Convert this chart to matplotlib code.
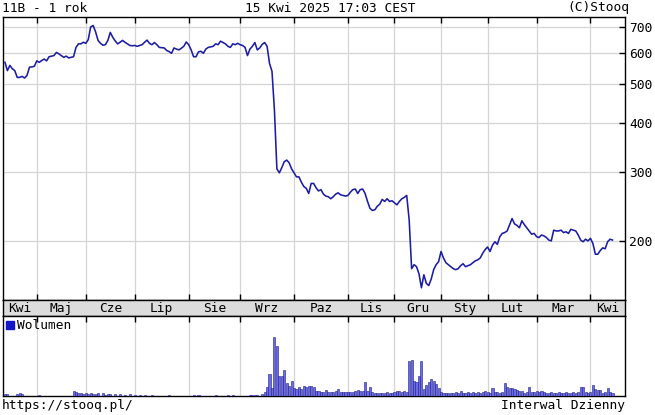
"""Stooq-style one-year chart for 11B: daily close (log scale) + volume panel."""

import matplotlib
matplotlib.use("Agg")
import matplotlib.pyplot as plt
import numpy as np
from matplotlib.patches import Patch
from matplotlib.ticker import FixedFormatter, FixedLocator, NullLocator

plt.rcParams["font.family"] = ["DejaVu Sans Mono"]

LINE = "#1c1ca6"
GRID = "#d4d4d4"
STRIP = "#dcdcdc"
BAR_FACE = "#6b6be6"
BAR_EDGE = "#1e1e8c"
FS = 9.3

# daily close, 15 Kwi 2024 .. 15 Kwi 2025 (one value per session)
close = [
    569, 542, 559, 548, 542, 521, 521, 524, 519, 527,
    553, 554, 556, 574, 569, 575, 580, 574, 588, 590,
    592, 603, 598, 592, 586, 590, 584, 586, 588, 621,
    634, 634, 640, 636, 650, 700, 706, 680, 647, 636,
    629, 631, 647, 678, 659, 645, 634, 640, 647, 640,
    634, 628, 627, 628, 625, 628, 631, 640, 648, 636,
    631, 639, 631, 621, 620, 619, 610, 606, 600, 619,
    615, 612, 618, 625, 641, 631, 612, 588, 588, 605,
    607, 600, 615, 621, 623, 625, 634, 631, 644, 639,
    634, 625, 621, 634, 631, 636, 631, 628, 621, 592,
    615, 625, 639, 612, 619, 632, 639, 625, 565, 540,
    430, 305, 298, 307, 318, 321, 316, 305, 298, 291,
    291, 282, 275, 272, 264, 280, 280, 273, 268, 270,
    263, 260, 259, 256, 259, 263, 265, 262, 261, 260,
    261, 266, 270, 271, 264, 270, 271, 264, 252, 242,
    239, 240, 245, 248, 255, 252, 256, 252, 253, 250,
    247, 252, 256, 258, 261, 226, 170, 174, 172, 165,
    152, 164, 156, 154, 160, 169, 174, 177, 188, 181,
    176, 174, 172, 170, 169, 170, 173, 175, 172, 173,
    174, 176, 178, 179, 181, 186, 190, 193, 188, 195,
    199, 196, 205, 209, 210, 212, 220, 228, 221, 219,
    216, 225, 220, 216, 212, 208, 209, 205, 204, 207,
    206, 204, 201, 200, 213, 212, 212, 213, 210, 211,
    209, 214, 213, 212, 207, 201, 199, 202, 200, 203,
    197, 185, 185, 189, 192, 191, 199, 202, 201,
]

# daily volume (relative units), same sessions
volume = [
    2, 2, 0, 0, 0, 2, 3, 2, 0, 0,
    0, 0, 0, 0, 1, 0, 0, 0, 0, 0,
    0, 0, 0, 0, 0, 0, 0, 0, 5, 4,
    3, 3, 2, 3, 2, 3, 2, 2, 3, 0,
    3, 1, 2, 2, 0, 2, 0, 2, 0, 1,
    0, 2, 0, 1, 0, 1, 0, 1, 0, 0,
    1, 0, 0, 0, 0, 0, 0, 1, 0, 0,
    0, 0, 0, 0, 0, 0, 0, 1, 0, 1,
    0, 0, 0, 0, 0, 0, 1, 0, 0, 0,
    0, 1, 0, 1, 0, 0, 0, 0, 0, 0,
    1, 1, 1, 1, 0, 2, 4, 9, 22, 8,
    59, 50, 20, 20, 26, 13, 10, 15, 8, 7,
    9, 7, 10, 9, 10, 10, 9, 5, 5, 4,
    4, 6, 4, 4, 4, 5, 7, 4, 4, 4,
    4, 4, 4, 5, 6, 5, 5, 14, 5, 9,
    4, 3, 3, 3, 3, 3, 4, 3, 3, 4,
    5, 5, 4, 5, 4, 35, 36, 15, 14, 20,
    35, 7, 11, 14, 17, 15, 12, 8, 4, 3,
    3, 3, 3, 3, 4, 3, 5, 3, 3, 4,
    3, 4, 3, 4, 3, 4, 5, 4, 3, 8,
    4, 4, 3, 4, 13, 9, 8, 8, 7, 6,
    5, 5, 3, 4, 9, 4, 4, 5, 4, 5,
    4, 3, 3, 4, 3, 3, 4, 3, 3, 4,
    3, 3, 4, 3, 4, 9, 9, 4, 3, 4,
    11, 7, 6, 6, 3, 4, 8, 4, 3,
]

# session index of the first trading day of each month (Maj .. Kwi)
month_start = [13, 33, 53, 75, 96, 118, 140, 159, 178, 197, 217, 239]
month_names = ["Kwi", "Maj", "Cze", "Lip", "Sie", "Wrz", "Paz",
               "Lis", "Gru", "Sty", "Lut", "Mar", "Kwi"]
price_levels = [200, 300, 400, 500, 600, 700]

W, H = 655, 415
X_LIM = (-0.8, 253.1)


def box(x0, y0, x1, y1):
    """pixel box (top-left origin) -> figure fraction rect"""
    return [x0 / W, 1 - y1 / H, (x1 - x0) / W, (y1 - y0) / H]


def frame(ax):
    for s in ax.spines.values():
        s.set_color("black")
        s.set_linewidth(1.0)


fig = plt.figure(figsize=(W / 100, H / 100), dpi=100)
fig.patch.set_facecolor("white")

ax = fig.add_axes(box(3, 17, 625, 300))
ax_m = fig.add_axes(box(3, 300, 625, 316))
ax_v = fig.add_axes(box(3, 316, 625, 396))

days = np.arange(len(close))

# --- price panel
ax.plot(days, close, color=LINE, lw=1.15, zorder=3)
ax.set_yscale("log")
ax.set_ylim(141.5, 742)
ax.set_xlim(*X_LIM)
ax.yaxis.set_major_locator(FixedLocator(price_levels))
ax.yaxis.set_major_formatter(FixedFormatter([str(v) for v in price_levels]))
ax.yaxis.set_minor_locator(NullLocator())
ax.yaxis.tick_right()
ax.set_xticks(month_start)
ax.tick_params(axis="x", direction="in", length=4, top=True, bottom=True,
               labelbottom=False, width=1, colors="black")
ax.tick_params(axis="y", direction="in", length=4, labelsize=FS, pad=3,
               width=1, colors="black")
ax.grid(True, color=GRID, lw=0.9, zorder=0)
frame(ax)

# --- month strip
ax_m.set_facecolor(STRIP)
ax_m.set_xlim(*X_LIM)
ax_m.set_ylim(0, 1)
ax_m.set_xticks([])
ax_m.set_yticks([])
bounds = [X_LIM[0]] + month_start + [X_LIM[1]]
for name, a, b in zip(month_names, bounds[:-1], bounds[1:]):
    ax_m.text((a + b) / 2, 0.45, name, ha="center", va="center", fontsize=FS)
frame(ax_m)

# --- volume panel
ax_v.bar(days, volume, width=0.85, color=BAR_FACE, edgecolor=BAR_EDGE,
         lw=0.4, zorder=3)
ax_v.set_xlim(*X_LIM)
ax_v.set_ylim(0, max(volume) * 1.35)
ax_v.set_yticks([])
ax_v.set_xticks(month_start)
ax_v.tick_params(axis="x", direction="in", length=4, top=True, bottom=False,
                 labelbottom=False, width=1)
ax_v.grid(True, axis="x", color=GRID, lw=0.9, zorder=0)
ax_v.legend(handles=[Patch(facecolor="#1414c8", edgecolor="#1414c8")],
            labels=["Wolumen"], loc="upper left", frameon=False,
            fontsize=FS, handlelength=0.6, handleheight=0.6,
            handletextpad=0.2, borderaxespad=0.15, borderpad=0.1)
frame(ax_v)

# --- header / footer
ty = 1 - 8 / H
fig.text(2 / W, ty, "11B - 1 rok", ha="left", va="center", fontsize=FS)
fig.text(330 / W, ty, "15 Kwi 2025 17:03 CEST", ha="center", va="center",
         fontsize=FS)
fig.text(629 / W, ty, "(C)Stooq", ha="right", va="center", fontsize=FS)
by = 1 - 405 / H
fig.text(2 / W, by, "https://stooq.pl/", ha="left", va="center", fontsize=FS)
fig.text(625 / W, by, "Interwal Dzienny", ha="right", va="center", fontsize=FS)

fig.savefig("out.png", dpi=100)
plt.close(fig)
